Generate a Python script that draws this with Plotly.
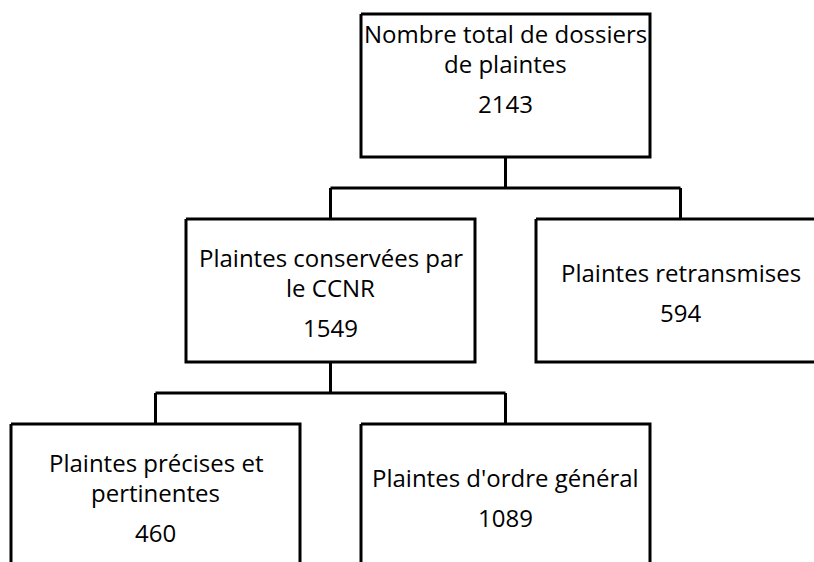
import plotly.graph_objects as go

# ---- data ----
node_titles = [
    "Nombre total de dossiers<br>de plaintes",
    "Plaintes conservées par<br>le CCNR",
    "Plaintes retransmises",
    "Plaintes précises et<br>pertinentes",
    "Plaintes d'ordre général",
]
node_values = [2143, 1549, 594, 460, 1089]
node_parents = [None, 0, 0, 1, 1]

# ---- layout / style constants ----
W, H = 814, 562
BOX_W, BOX_H = 289, 143
ROOT_X, TOP_Y = 505.5, 14
SPACING_X, LEVEL_Y = 350, 205
FONT = dict(family="Open Sans", size=24, color="#000000")
LINE_GAP, NUM_GAP, CONTENT_OFF = 30, 40, 73
ROOT_TEXT_SHIFT = -18.5
LW = 3

n = len(node_values)
children = {i: [j for j in range(n) if node_parents[j] == i] for i in range(n)}
cx, depth = [0.0] * n, [0] * n


def place(i, x, d):
    cx[i], depth[i] = x, d
    ch = children[i]
    for k, c in enumerate(ch):
        place(c, x + (k - (len(ch) - 1) / 2) * SPACING_X, d + 1)


place(0, ROOT_X, 0)
top = [TOP_Y + d * LEVEL_Y for d in depth]

fig = go.Figure()
xs, ys = [], []
annots = []


def seg(x0, y0, x1, y1):
    xs.extend([x0, x1, None])
    ys.extend([y0, y1, None])


for i in range(n):
    # box outline
    x0, x1 = cx[i] - BOX_W / 2, cx[i] + BOX_W / 2
    y0, y1 = top[i], top[i] + BOX_H
    xs.extend([x0, x1, x1, x0, x0, None])
    ys.extend([y0, y0, y1, y1, y0, None])
    # texts
    lines = node_titles[i].split("<br>")
    nl = len(lines)
    c = top[i] + CONTENT_OFF + (ROOT_TEXT_SHIFT if node_parents[i] is None else 0)
    l1 = c - (LINE_GAP * (nl - 1) + NUM_GAP) / 2
    for k, t in enumerate(lines):
        annots.append(dict(x=cx[i], y=l1 + k * LINE_GAP, xref="x", yref="y",
                           text=t, showarrow=False, font=FONT,
                           xanchor="center", yanchor="middle"))
    annots.append(dict(x=cx[i], y=l1 + LINE_GAP * (nl - 1) + NUM_GAP,
                       xref="x", yref="y", text=str(node_values[i]),
                       showarrow=False, font=FONT,
                       xanchor="center", yanchor="middle"))
    # connectors to children
    ch = children[i]
    if ch:
        b = top[i] + BOX_H
        mid = b + (LEVEL_Y - BOX_H) / 2
        seg(cx[i], b, cx[i], mid)
        seg(min(cx[c] for c in ch), mid, max(cx[c] for c in ch), mid)
        for c in ch:
            seg(cx[c], mid, cx[c], top[c])

fig.add_trace(go.Scatter(x=xs, y=ys, mode="lines", hoverinfo="skip",
                         line=dict(color="black", width=LW)))

fig.update_layout(
    width=W, height=H,
    margin=dict(l=0, r=0, t=0, b=0),
    paper_bgcolor="white", plot_bgcolor="white",
    xaxis=dict(range=[0, W], visible=False, fixedrange=True),
    yaxis=dict(range=[H, 0], visible=False, fixedrange=True),
    annotations=annots, showlegend=False,
)
fig.write_html("out.html", config={"displayModeBar": False},
               post_script="document.body.style.margin='0';"
                           "document.body.style.overflow='hidden';")
